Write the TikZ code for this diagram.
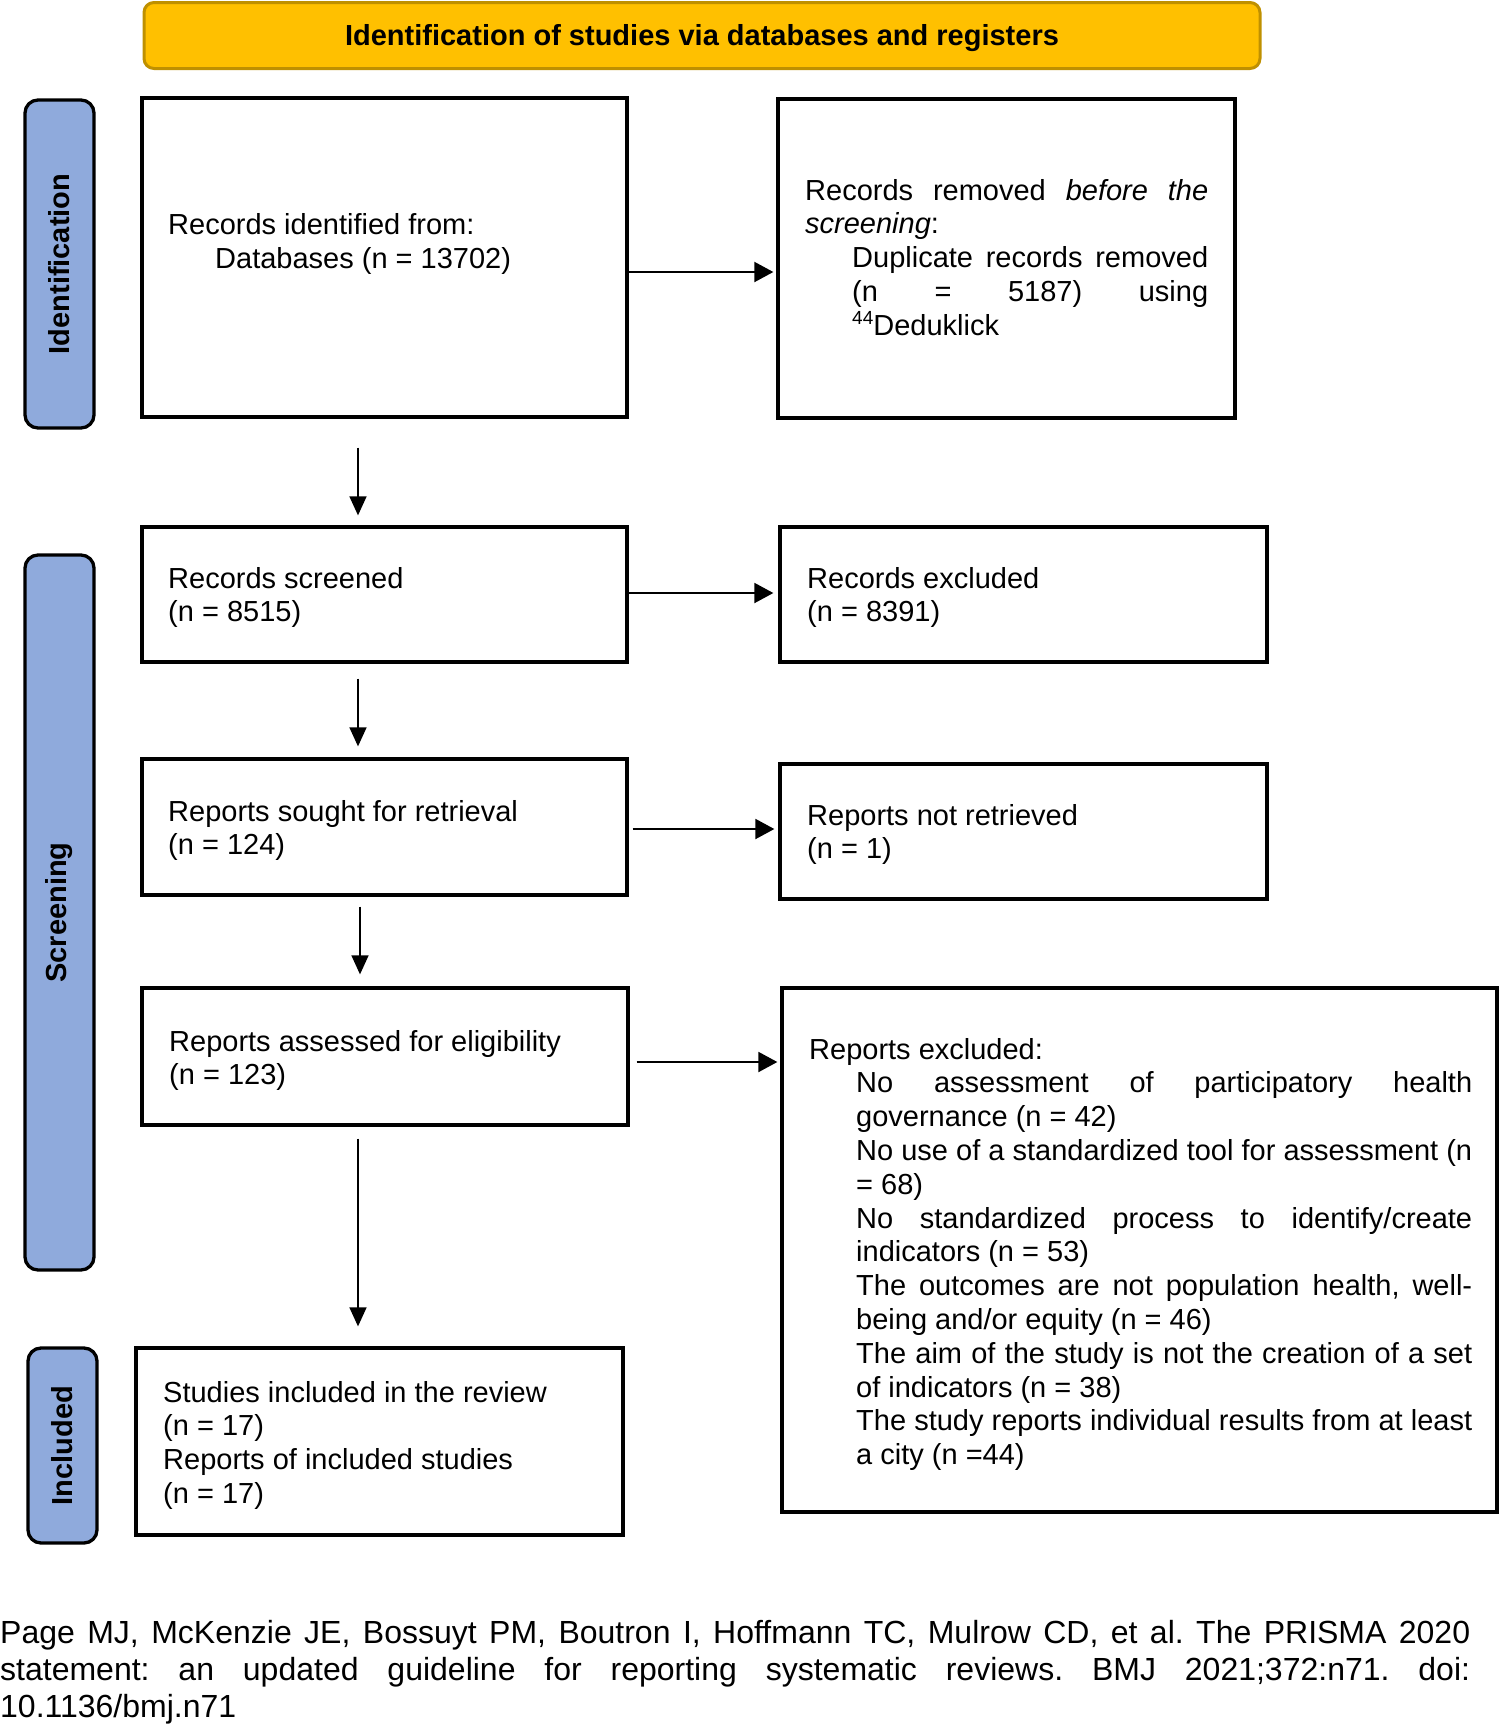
\documentclass[tikz,border=0pt]{standalone}
\usepackage{fontspec}
\setmainfont{Liberation Sans}
\usetikzlibrary{arrows.meta}
\definecolor{hdrfill}{HTML}{FFC000}
\definecolor{hdrdraw}{HTML}{BF9000}
\definecolor{barfill}{HTML}{8FAADC}
\newcommand{\jl}[2]{\makebox[#1][s]{#2}}
\newcommand{\ind}{\hspace*{47pt}}
\frenchspacing
\begin{document}
\begin{tikzpicture}[x=1pt,y=-1pt,
  box/.style={draw=black, line width=3.3pt, fill=white, inner sep=0pt},
  bar/.style={draw=black, line width=3.3pt, fill=barfill, rounded corners=13pt, inner sep=0pt},
  hdr/.style={draw=hdrdraw, line width=3pt, fill=hdrfill, rounded corners=10pt, inner sep=0pt},
  txt/.style={inner sep=0pt, align=left, anchor=base west, font=\fontsize{29}{33.8}\selectfont},
  lbl/.style={rotate=90, inner sep=0pt, font=\fontsize{29}{34}\selectfont\bfseries},
  harr/.style={line width=2pt, -{Triangle[length=19pt,width=20pt]}},
  varr/.style={line width=1.5pt, -{Triangle[length=19pt,width=17pt]}}]
\useasboundingbox (0,0) rectangle (1500,1725);

% header
\node[hdr, minimum width=1116pt, minimum height=66pt] (hdr) at (702,35.5) {};
\node[inner sep=0pt, anchor=base, font=\fontsize{29}{34}\selectfont\bfseries] (hdrt) at (702,45) {Identification of studies via databases and registers};

% side bars
\node[bar, minimum width=69pt, minimum height=328pt] (barid) at (59.5,264) {};
\node[lbl] (lblid) at (barid.center) {Identification};
\node[bar, minimum width=69pt, minimum height=715pt] (barsc) at (59.5,912.5) {};
\node[lbl] (lblsc) at (barsc.center) {Screening};
\node[bar, minimum width=69pt, minimum height=195pt] (barin) at (62.5,1445.5) {};
\node[lbl] (lblin) at (barin.center) {Included};

% boxes
\node[box, minimum width=485pt, minimum height=319pt] (b1) at (384.5,257.5) {};
\node[box, minimum width=457pt, minimum height=319pt] (b2) at (1006.5,258.5) {};
\node[box, minimum width=485pt, minimum height=135pt] (b3) at (384.5,594.5) {};
\node[box, minimum width=487pt, minimum height=135pt] (b4) at (1023.5,594.5) {};
\node[box, minimum width=485pt, minimum height=136pt] (b5) at (384.5,827) {};
\node[box, minimum width=487pt, minimum height=135pt] (b6) at (1023.5,831.5) {};
\node[box, minimum width=486pt, minimum height=137pt] (b7) at (385,1056.5) {};
\node[box, minimum width=715pt, minimum height=524pt] (b8) at (1139.5,1250) {};
\node[box, minimum width=487pt, minimum height=187pt] (b9) at (379.5,1441.5) {};

% texts (anchor = baseline of the last line)
\node[txt] (t1) at (168,268.5) {Records identified from:\\\ind Databases (n = 13702)};
\node[txt] (t2) at (805,335.2) {\jl{403pt}{Records removed \textit{before the}}\\
  \textit{screening}:\\
  \ind\jl{356pt}{Duplicate records removed}\\
  \ind\jl{356pt}{(n = 5187) using}\\
  \ind{\fontsize{19}{19}\selectfont\raisebox{11pt}{44}}Deduklick};
\node[txt] (t3) at (168,621.8) {Records screened\\(n = 8515)};
\node[txt] (t4) at (807,621.8) {Records excluded\\(n = 8391)};
\node[txt] (t5) at (168,854.8) {Reports sought for retrieval\\(n = 124)};
\node[txt] (t6) at (807,858.8) {Reports not retrieved\\(n = 1)};
\node[txt] (t7) at (169,1084.8) {Reports assessed for eligibility\\(n = 123)};
\node[txt] (t8) at (809,1464.6) {Reports excluded:\\
  \ind\jl{616pt}{No assessment of participatory health}\\
  \ind governance (n = 42)\\
  \ind\jl{616pt}{No use of a standardized tool for assessment (n}\\
  \ind = 68)\\
  \ind\jl{616pt}{No standardized process to identify/create}\\
  \ind indicators (n = 53)\\
  \ind\jl{616pt}{The outcomes are not population health, well-}\\
  \ind being and/or equity (n = 46)\\
  \ind\jl{616pt}{The aim of the study is not the creation of a set}\\
  \ind of indicators (n = 38)\\
  \ind\jl{616pt}{The study reports individual results from at least}\\
  \ind a city (n =44)};
\node[txt] (t9) at (163,1503.4) {Studies included in the review\\(n = 17)\\Reports of included studies\\(n = 17)};

% footer
\node[txt, font=\fontsize{32}{37.4}\selectfont] (foot) at (0,1717.8) {\jl{1470pt}{Page MJ, McKenzie JE, Bossuyt PM, Boutron I, Hoffmann TC, Mulrow CD, et al. The PRISMA 2020}\\
  \jl{1470pt}{statement: an updated guideline for reporting systematic reviews. BMJ 2021;372:n71. doi:}\\
  10.1136/bmj.n71};

% connector coordinates
\coordinate (h1) at (0,272);
\coordinate (h2) at (0,593);
\coordinate (h3) at (0,829);
\coordinate (h4) at (0,1062);
\coordinate (v1) at (358,0);
\coordinate (v3) at (360,0);

% horizontal arrows
\draw[harr, shorten >=3pt] (b1.east |- h1) -- (b2.west |- h1);
\draw[harr, shorten >=5pt] (b3.east |- h2) -- (b4.west |- h2);
\draw[harr, shorten <=4pt, shorten >=4pt] (b5.east |- h3) -- (b6.west |- h3);
\draw[harr, shorten <=7pt, shorten >=3pt] (b7.east |- h4) -- (b8.west |- h4);

% vertical arrows
\draw[varr, shorten <=29pt, shorten >=10pt] (b1.south -| v1) -- (b3.north -| v1);
\draw[varr, shorten <=15pt, shorten >=11pt] (b3.south -| v1) -- (b5.north -| v1);
\draw[varr, shorten <=10pt, shorten >=12pt] (b5.south -| v3) -- (b7.north -| v3);
\draw[varr, shorten <=12pt, shorten >=20pt] (b7.south -| v1) -- (b9.north -| v1);
\end{tikzpicture}
\end{document}
